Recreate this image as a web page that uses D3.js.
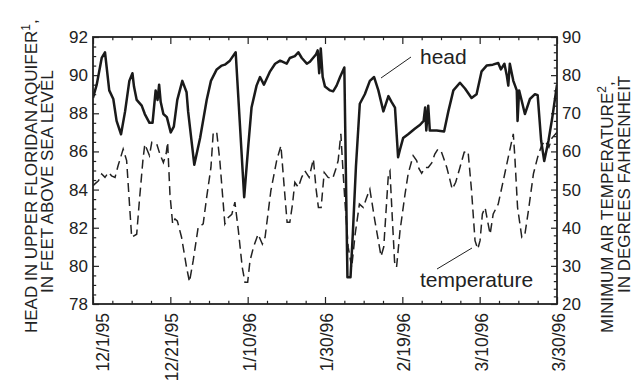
<!DOCTYPE html>
<html><head><meta charset="utf-8">
<script src="https://cdn.jsdelivr.net/npm/d3@7"></script>
<style>
body{margin:0;background:#fff}
svg{display:block}
text{font-family:"Liberation Sans",Arial,Helvetica,sans-serif;fill:#222}
</style>
</head><body>
<svg id="c" width="638" height="381"></svg>
<script>
// Days since 12/1/95
const dateLabels = ["12/1/95","12/21/95","1/10/96","1/30/96","2/19/96","3/10/96","3/30/96"];
const dateTickDays = [0,20,40,60,80,100,120];
const headTicks = [78,80,82,84,86,88,90,92];
const tempTicks = [20,30,40,50,60,70,80,90];

const headDays = [0,0.96,2.25,3.1,4.2,5.25,6.1,7.25,8.3,9.4,10.2,10.6,11.3,12.6,13.4,14.6,15.4,16.2,16.7,17.1,17.5,18.2,19.1,20.1,20.9,21.8,23.1,24.2,24.6,26.2,27.7,29.4,30.5,32.0,33.3,34.1,35.4,36.9,39.1,40.2,41.0,42.3,43.2,44.2,45.8,47.1,48.4,50.1,50.9,52.2,53.1,54.0,55.3,56.1,57.7,58.1,58.5,58.9,59.4,60.0,61.3,62.1,63.0,63.9,65.0,65.8,66.6,67.2,68.0,69.0,70.3,71.6,72.7,73.8,75.1,76.4,77.2,78.1,78.9,79.4,80.2,81.5,83.3,84.6,85.5,85.9,86.2,86.7,87.1,88.9,90.8,91.9,93.2,94.9,96.2,97.9,99.2,100.5,101.8,103.4,104.8,105.5,106.4,107.0,107.4,107.8,108.7,109.6,109.8,110.2,110.7,111.7,113.0,114.3,115.0,115.9,116.7,117.8,118.8,120];
const headValues = [88.8,89.5,90.9,91.2,89.2,88.75,87.6,86.9,88.1,89.7,90.1,89.4,88.7,88.4,87.96,87.5,87.5,89.2,88.7,89.5,88.6,87.96,87.8,87.0,87.3,88.7,89.7,89.1,88.1,85.3,86.7,88.7,89.7,90.3,90.5,90.55,90.76,91.2,83.6,86.4,88.3,89.45,89.9,89.5,90.2,90.6,90.76,90.6,90.9,91.0,91.2,90.9,90.6,90.7,91.1,91.3,90.1,91.4,89.9,89.4,89.2,89.15,89.45,89.9,90.4,79.4,79.4,81.7,85.2,88.5,89.0,89.7,89.9,89.2,88.1,88.9,88.6,88.3,85.7,86.1,86.7,86.9,87.2,87.4,87.6,88.3,87.1,88.4,87.1,87.1,87.05,88.1,89.2,89.6,89.3,88.8,89.0,90.2,90.5,90.55,90.64,90.3,90.6,90.0,89.45,90.6,89.7,89.2,87.6,89.2,88.8,87.96,88.75,89.0,88.95,86.56,85.5,86.56,87.8,89.5];

const tempDays = [0,0.5,1.4,2.25,3.1,4.0,4.8,5.7,6.5,7.8,8.7,10.0,11.3,12.0,12.9,13.4,14.6,15.2,16.5,17.3,18.2,18.9,19.3,19.9,20.6,21.2,21.8,22.9,24.2,24.95,25.9,27.2,28.5,29.4,30.5,31.1,32.0,32.8,34.1,35.0,35.9,36.7,37.6,38.6,39.3,40.0,40.6,41.5,42.7,43.8,44.5,46.0,47.5,48.6,49.6,50.2,50.9,51.6,52.2,53.1,53.97,54.8,55.9,57.0,57.7,58.3,59.0,59.8,60.8,62.0,62.8,63.4,64.1,64.7,65.2,66.0,66.9,67.8,68.9,69.9,70.8,71.6,72.9,74.5,75.2,76.4,76.8,77.4,78.0,78.5,79.4,80.7,81.5,82.8,83.7,84.3,85.0,85.9,86.7,87.6,88.4,89.2,90.0,90.6,91.5,92.2,92.9,93.8,94.9,96.0,97.0,97.9,98.8,99.5,100.1,100.7,101.4,102.0,102.7,103.5,104.8,106.1,107.4,108.7,109.1,109.8,110.9,111.7,112.6,113.9,115.0,116.0,116.9,117.9,118.7,120];
const tempValues = [51.0,51.5,52.3,54.1,53.2,54.5,53.6,53.2,56.3,60.6,57.6,37.5,38.3,47.1,57.6,61.9,58.9,62.4,61.9,59.3,57.1,59.3,62.4,48.8,41.0,42.3,41.8,37.5,29.6,25.8,31.3,40.1,41.0,48.0,55.8,65.0,65.0,57.6,41.0,42.7,43.5,46.7,39.2,29.6,25.7,25.7,31.3,34.9,38.3,35.7,37.5,49.7,57.6,61.5,48.8,41.4,41.4,46.2,51.9,50.6,53.2,54.9,53.2,58.0,50.1,45.3,45.3,54.5,53.2,52.9,55.4,57.6,64.6,54.1,46.2,34.9,29.6,38.3,46.2,45.3,48.0,50.1,41.8,32.5,35.0,54.1,54.9,42.7,31.0,29.6,39.2,48.8,54.1,58.9,57.6,55.5,54.3,55.8,55.8,57.0,59.3,60.6,60.2,58.5,55.8,53.0,50.1,51.9,55.8,59.8,60.0,49.7,36.6,34.4,36.6,43.6,45.3,42.0,38.3,43.6,46.2,52.3,58.5,64.6,58.5,45.3,37.5,38.3,44.4,54.1,58.5,61.5,62.8,61.1,63.5,65.0];

const L = 93, R = 557, T = 37, B = 304;
const svg = d3.select("#c");

const x = d3.scaleLinear().domain([0,120]).range([L,R]);
const yH = d3.scaleLinear().domain([78,92]).range([B,T]);
const yT = d3.scaleLinear().domain([20,90]).range([B,T]);

const minorDays = d3.range(0,121,5).filter(d => d % 20 !== 0);
const minorHead = d3.range(78,92.01,0.5).filter(v => Math.abs(v/2 - Math.round(v/2)) > 1e-6);
const minorTemp = d3.range(20,90.01,2).filter(v => v % 10 !== 0);

function styleAxis(g){
  g.select(".domain").remove();
  g.selectAll("line").attr("stroke","#222").attr("stroke-width",1.2);
  g.selectAll("text").style("font-size","17px").attr("fill","#222");
}

// bottom axis
svg.append("g").attr("transform",`translate(0,${B})`)
  .call(d3.axisBottom(x).tickValues(dateTickDays).tickSizeInner(-7).tickSizeOuter(0).tickFormat((d,i)=>dateLabels[i]))
  .call(styleAxis)
  .call(g=>g.selectAll("text")
     .style("font-size","17.5px")
     .attr("text-anchor","end")
     .attr("dy",null).attr("y",null)
     .attr("transform",(d,i)=>`translate(${i===0?15:7.5},9) rotate(-90)`));
svg.append("g").attr("transform",`translate(0,${B})`)
  .call(d3.axisBottom(x).tickValues(minorDays).tickSizeInner(-3.2).tickSizeOuter(0).tickFormat(""))
  .call(styleAxis);
// top axis
svg.append("g").attr("transform",`translate(0,${T})`)
  .call(d3.axisTop(x).tickValues(dateTickDays).tickSizeInner(-7).tickSizeOuter(0).tickFormat(""))
  .call(styleAxis);
svg.append("g").attr("transform",`translate(0,${T})`)
  .call(d3.axisTop(x).tickValues(minorDays).tickSizeInner(-3.2).tickSizeOuter(0).tickFormat(""))
  .call(styleAxis);
// left axis
svg.append("g").attr("transform",`translate(${L},0)`)
  .call(d3.axisLeft(yH).tickValues(headTicks).tickSizeInner(-6).tickSizeOuter(0).tickPadding(5).tickFormat(d3.format("d")))
  .call(styleAxis);
svg.append("g").attr("transform",`translate(${L},0)`)
  .call(d3.axisLeft(yH).tickValues(minorHead).tickSizeInner(-3.2).tickSizeOuter(0).tickFormat(""))
  .call(styleAxis);
// right axis
svg.append("g").attr("transform",`translate(${R},0)`)
  .call(d3.axisRight(yT).tickValues(tempTicks).tickSizeInner(-6).tickSizeOuter(0).tickPadding(5).tickFormat(d3.format("d")))
  .call(styleAxis);
svg.append("g").attr("transform",`translate(${R},0)`)
  .call(d3.axisRight(yT).tickValues(minorTemp).tickSizeInner(-3.2).tickSizeOuter(0).tickFormat(""))
  .call(styleAxis);

// clip
svg.append("clipPath").attr("id","clip").append("rect")
  .attr("x",L).attr("y",T).attr("width",R-L).attr("height",B-T);

const headData = headDays.map((d,i)=>[d,headValues[i]]);
const tempData = tempDays.map((d,i)=>[d,tempValues[i]]);

svg.append("path").datum(tempData)
  .attr("clip-path","url(#clip)")
  .attr("fill","none").attr("stroke","#222").attr("stroke-width",1.5)
  .attr("stroke-dasharray","9,5")
  .attr("d", d3.line().x(d=>x(d[0])).y(d=>yT(d[1])));

svg.append("path").datum(headData)
  .attr("clip-path","url(#clip)")
  .attr("fill","none").attr("stroke","#1a1a1a").attr("stroke-width",2.5)
  .attr("stroke-linejoin","round")
  .attr("d", d3.line().x(d=>x(d[0])).y(d=>yH(d[1])));

// frame
svg.append("rect").attr("x",L).attr("y",T).attr("width",R-L).attr("height",B-T)
  .attr("fill","none").attr("stroke","#222").attr("stroke-width",1.8);

// annotations
svg.append("line").attr("x1",381).attr("y1",78).attr("x2",411).attr("y2",57)
  .attr("stroke","#222").attr("stroke-width",1);
svg.append("text").attr("x",420).attr("y",64).style("font-size","21px").text("head");
svg.append("line").attr("x1",437).attr("y1",269).attr("x2",472).attr("y2",248)
  .attr("stroke","#222").attr("stroke-width",1);
svg.append("text").attr("x",420).attr("y",287).style("font-size","21px").text("temperature");

// axis titles
function title(xb, ys, parts){
  const t = svg.append("text").attr("transform",`translate(${xb},${ys}) rotate(-90)`)
    .attr("text-anchor","start").style("font-size","17px");
  parts.forEach(p=>{
    const s = t.append("tspan").text(p.t);
    if(p.sup){ s.attr("baseline-shift","super").style("font-size","12px"); }
  });
}
title(37, 333, [{t:"HEAD IN UPPER FLORIDAN AQUIFER"},{t:"1",sup:true},{t:","}]);
title(53, 293, [{t:"IN FEET ABOVE SEA LEVEL"}]);
title(613, 333, [{t:"MINIMUM AIR TEMPERATURE"},{t:"2",sup:true},{t:","}]);
title(630, 293, [{t:"IN DEGREES FAHRENHEIT"}]);
</script>
</body></html>
